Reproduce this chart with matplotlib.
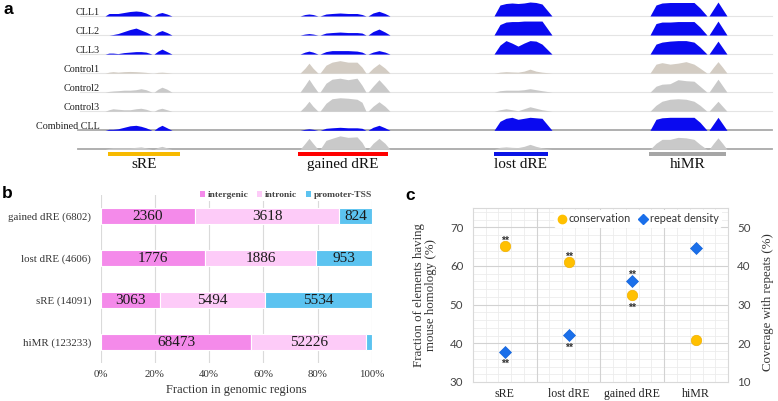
import matplotlib
matplotlib.use("Agg")
import matplotlib.pyplot as plt
from matplotlib.patches import Patch
from matplotlib.lines import Line2D
import numpy as np

W, H = 778, 401
SERIF = ["Liberation Serif", "DejaVu Serif"]
SANS = ["Lato", "DejaVu Sans"]
BOLD_SANS = ["Liberation Sans", "DejaVu Sans"]

# ---------------- panel a data ----------------
track_names = ["CLL1", "CLL2", "CLL3", "Control1", "Control2", "Control3", "Combined CLL", ""]
track_colors = ["#0A0AF0", "#0A0AF0", "#0A0AF0", "#D3CCC3", "#C9C9C9", "#C9C9C9", "#0A0AF0", "#C9C9C9"]

region_names = ["sRE", "gained dRE", "lost dRE", "hiMR"]
region_start = [108, 298, 494, 649]
region_end = [180, 388, 548, 726]
region_colors = ["#F7BA00", "#FF0000", "#0A14E6", "#A6A6A6"]

sre_pos = [105, 109, 113, 118, 124, 130, 136, 141, 146, 152, 154, 158, 162, 167, 172]
sre_heights = [
    [0, 2.5, 2.5, 2.5, 3.5, 4.5, 5, 4.5, 3, 0, 0, 2.5, 3.5, 2, 0],
    [0, 0, 0.5, 1.5, 3.5, 5.5, 7, 5, 3, 0, 0, 3, 4.5, 2.5, 0],
    [0, 1, 1, 0.5, 1.5, 2, 2.5, 2.5, 2, 0, 0, 3, 5, 2.5, 0],
    [0, 1, 1.5, 1, 1.5, 1.7, 1.5, 1.2, 0.8, 0, 0, 0.8, 1, 0.6, 0],
    [0, 0.8, 1.2, 1.5, 2, 2, 2.5, 3.5, 2.5, 0, 0, 3, 5, 3, 0],
    [0, 1.5, 2.5, 2, 1.5, 1.5, 2.5, 3, 2, 0, 0, 2, 3, 1.5, 0],
    [0, 1, 1, 1.5, 3, 4.5, 5, 4, 2.5, 0, 0, 3, 5, 2.5, 0],
    [0, 1, 1.5, 1.5, 1.5, 1.5, 2, 2.5, 1.5, 0, 0, 2, 3, 1.5, 0],
]

gained_pos = [300, 305, 309, 313, 318, 320, 326, 332, 340, 348, 357, 362, 366, 368, 373, 379, 385, 390]
gained_heights = [
    [0, 1.5, 2, 1.5, 0, 0, 2, 2.5, 3, 2.5, 2.5, 1.5, 0, 0, 3, 4.7, 2.5, 0],
    [0, 1, 1.5, 1, 0, 0, 2, 2.5, 3, 2.5, 2.5, 2, 0, 0, 3.5, 6, 3, 0],
    [0, 2, 3, 2, 0, 0, 2.5, 3.5, 3.5, 3.5, 3, 2, 0, 0, 2, 3.5, 2, 0],
    [0, 5, 10, 5, 0, 0, 8, 11, 12.5, 11, 11, 6, 0, 0, 5, 9.5, 5, 0],
    [0, 7, 13, 7, 0, 0, 9, 13, 14, 12.5, 14, 7, 0, 0, 6, 12.5, 6, 0],
    [0, 5, 10, 5, 0, 0, 8, 12.5, 13.5, 13, 12, 9, 0, 0, 5, 9.5, 5, 0],
    [0, 1, 1.5, 1, 0, 0, 2, 2.5, 3, 2.5, 2.5, 2, 0, 0, 3, 5, 2.5, 0],
    [0, 6, 11, 6, 0, 0, 9, 11, 13.5, 12, 12.5, 7, 0, 0, 6, 11, 6, 0],
]

lost_pos = [494, 500, 506, 512, 518, 524, 530, 536, 542, 552]
lost_heights = [
    [0, 11, 12.5, 13, 12.5, 13, 14, 13.5, 12, 0],
    [0, 10.5, 13, 13.5, 13.5, 14, 14, 14, 14, 0],
    [0, 9, 13.5, 11, 8, 11, 13.5, 13, 10, 0],
    [0, 1, 1.5, 1.2, 1, 2, 4, 2, 1, 0],
    [0, 1.5, 2, 2, 2, 2.5, 3.5, 2.5, 1.5, 0],
    [0, 1.5, 2.5, 1.5, 0.5, 2.5, 4.5, 3, 1.5, 0],
    [0, 9, 12, 13, 11, 12, 13, 12.5, 12, 0],
    [0, 2, 2.5, 2, 1.8, 3, 5, 3, 1.5, 0],
]

himr_pos = [650, 656, 662, 670, 678, 686, 694, 700, 707, 709, 713.5, 718, 722.5, 727]
himr_heights = [
    [0, 11, 13, 13.5, 13.5, 13.5, 13.5, 8, 0, 0, 7, 14, 7, 0],
    [0, 11.5, 13, 13, 13.5, 13.5, 13.5, 8, 0, 0, 7, 14, 7, 0],
    [0, 10, 12, 13, 13.5, 13.5, 12, 7, 0, 0, 6.5, 13, 6.5, 0],
    [0, 9, 10.5, 9, 10, 11.5, 9, 5, 0, 0, 6, 11.5, 6, 0],
    [0, 6, 8, 8.5, 12.5, 11.5, 11, 6, 0, 0, 6.5, 13, 6.5, 0],
    [0, 6, 10, 12, 12.5, 12, 10, 6, 0, 0, 5, 10, 5, 0],
    [0, 11, 12.5, 13, 13, 13, 13, 8, 0, 0, 6.5, 13, 6.5, 0],
    [0, 6, 10, 10, 12, 11.5, 10, 5, 0, 0, 6, 11.5, 6, 0],
]

# ---------------- panel b data ----------------
b_categories = ["gained dRE (6802)", "lost dRE (4606)", "sRE (14091)", "hiMR (123233)"]
intergenic = [2360, 1776, 3063, 68473]
intronic = [3618, 1886, 5494, 52226]
promoter_tss = [824, 953, 5534, 2534]
b_series_names = ["intergenic", "intronic", "promoter-TSS"]
b_colors = ["#F48AEA", "#FDCBF8", "#5CC3F0"]
b_xticks = [0, 20, 40, 60, 80, 100]

# ---------------- panel c data ----------------
c_categories = ["sRE", "lost dRE", "gained dRE", "hiMR"]
conservation = [65.1, 61.0, 52.4, 40.9]
repeat_density = [17.8, 22.1, 36.2, 44.7]
conservation_sig = ["above", "above", "below", ""]
repeat_sig = ["below", "below", "above", ""]
left_ticks = [30, 40, 50, 60, 70]
right_ticks = [10, 20, 30, 40, 50]

fig = plt.figure(figsize=(W / 100, H / 100), dpi=100)

# ================= panel a =================
ax_a = fig.add_axes([0, 0, 1, 1])
ax_a.set_xlim(0, W)
ax_a.set_ylim(H, 0)
ax_a.axis("off")

baselines = [16 + 19.05 * i for i in range(len(track_names))]
for i, base in enumerate(baselines):
    if i >= 6:
        ax_a.plot([78, 772], [base, base], color="#A9A9A9", lw=1.3, zorder=1)
    else:
        ax_a.plot([80, 772], [base, base], color="#E4E4E4", lw=0.8, zorder=1)
    if track_names[i]:
        ax_a.text(100, base - 3.5, track_names[i], ha="right", va="center",
                  family=SERIF, fontsize=7.3, color="#222222")

for pos, heights in [(sre_pos, sre_heights), (gained_pos, gained_heights),
                     (lost_pos, lost_heights), (himr_pos, himr_heights)]:
    for i, h in enumerate(heights):
        base = baselines[i]
        ax_a.fill_between(pos, base, base - np.array(h, dtype=float),
                          color=track_colors[i], lw=0, zorder=2)

for name, s, e, c in zip(region_names, region_start, region_end, region_colors):
    ax_a.barh(154, e - s, left=s, height=4.5, color=c, lw=0, zorder=2)
    ax_a.text((s + e) / 2, 164.5, name, ha="center", va="center",
              family=SERIF, fontsize=11, color="#111111")

fig.text(3 / W, 1 - 10 / H, "a", family=BOLD_SANS, fontweight="bold",
         fontsize=12.5, va="center", ha="left")

# ================= panel b =================
ax_b = fig.add_axes([100.7 / W, 1 - 363 / H, 271.3 / W, 168 / H])
b_data = np.array([intergenic, intronic, promoter_tss], dtype=float)
b_frac = b_data / b_data.sum(axis=0) * 100
ypos = np.arange(len(b_categories))
left = np.zeros(len(b_categories))
for k in range(3):
    ax_b.barh(ypos, b_frac[k], left=left, height=0.38, color=b_colors[k],
              edgecolor="white", lw=0.8, zorder=2, label=b_series_names[k])
    for j in range(len(b_categories)):
        if b_frac[k][j] > 5:
            ax_b.text(left[j] + b_frac[k][j] / 2, ypos[j], f"{int(b_data[k][j])}",
                      ha="center", va="center", family=SERIF, fontsize=11,
                      color="#1A1A1A", zorder=3)
    left = left + b_frac[k]

ax_b.set_xlim(0, 100)
ax_b.set_ylim(3.5, -0.5)
ax_b.set_yticks(ypos)
ax_b.set_yticklabels(b_categories, family=SERIF, fontsize=7.8, color="#333333")
ax_b.set_xticks(b_xticks)
ax_b.set_xticklabels([f"{t}%" for t in b_xticks], family=SERIF, fontsize=7.8, color="#333333")
ax_b.tick_params(length=0, pad=7)
ax_b.tick_params(axis="x", pad=5)
for sp in ax_b.spines.values():
    sp.set_visible(False)
ax_b.grid(axis="x", color="#DADADA", lw=0.8, zorder=0)
ax_b.set_axisbelow(True)
ax_b.set_xlabel("Fraction in genomic regions", family=SERIF, fontsize=9, color="#333333", labelpad=4)
handles_b = [Patch(facecolor=c, edgecolor="none", label=n) for c, n in zip(b_colors, b_series_names)]
leg_b = ax_b.legend(handles=handles_b, loc="upper right", bbox_to_anchor=(1.005, 1.035), ncol=3,
                    prop={"family": SERIF, "size": 6.8, "weight": "bold"},
                    handlelength=0.55, handleheight=0.7, handletextpad=0.3,
                    columnspacing=0.9, frameon=True, borderpad=0.15, borderaxespad=0.0)
leg_b.get_frame().set_facecolor("white")
leg_b.get_frame().set_edgecolor("none")
leg_b.get_frame().set_alpha(1)
for t in leg_b.get_texts():
    t.set_color("#444444")

fig.text(2 / W, 1 - 193 / H, "b", family=BOLD_SANS, fontweight="bold",
         fontsize=12.5, va="center", ha="left")

# ================= panel c =================
ax_c = fig.add_axes([473 / W, 1 - 382 / H, 255 / W, 174 / H])
xc = np.arange(len(c_categories))
ax_c.set_xlim(-0.5, len(c_categories) - 0.5)
ax_c.set_ylim(30, 75)
for xv in np.arange(-0.3, 3.5, 0.2):
    ax_c.axvline(xv, color="#ECECEC", lw=0.6, zorder=0)
for yv in np.arange(32, 75, 2):
    ax_c.axhline(yv, color="#ECECEC", lw=0.6, zorder=0)
for xv in [0.5, 1.5, 2.5]:
    ax_c.axvline(xv, color="#D2D2D2", lw=0.8, zorder=0)
for yv in left_ticks[1:]:
    ax_c.axhline(yv, color="#D2D2D2", lw=0.8, zorder=0)
for sp in ax_c.spines.values():
    sp.set_color("#D9D9D9")
    sp.set_linewidth(0.8)
ax_c.set_xticks(xc)
ax_c.set_xticklabels(c_categories, family=SERIF, fontsize=8.6, color="#222222")
ax_c.set_yticks(left_ticks)
ax_c.set_yticklabels([str(t) for t in left_ticks], family=SANS, fontsize=8.3, color="#444444")
ax_c.tick_params(length=0)
ax_c.tick_params(axis="y", pad=7)
ax_c.tick_params(axis="x", pad=4)

ax_c2 = ax_c.twinx()
ax_c2.set_ylim(10, 55)
ax_c2.set_yticks(right_ticks)
ax_c2.set_yticklabels([str(t) for t in right_ticks], family=SANS, fontsize=8.3, color="#444444")
ax_c2.tick_params(length=0, pad=6.5)
for sp in ax_c2.spines.values():
    sp.set_visible(False)

ax_c.plot(xc, conservation, "o", color="#FFC000", ms=7.5, mec="#F0B000", mew=0.5, zorder=3)
ax_c2.plot(xc, repeat_density, "D", color="#1A6FEA", ms=6.3, mec="#1565DA", mew=0.5, zorder=3)


def stars(ax, xs, ys, where):
    for x, y, w in zip(xs, ys, where):
        if not w:
            continue
        off = 4 if w == "above" else -9
        ax.annotate("**", (x, y), xytext=(0, off), textcoords="offset points",
                    ha="center", va="center", fontsize=7.5, color="#333333",
                    family=BOLD_SANS, fontweight="bold")


stars(ax_c, xc, conservation, conservation_sig)
stars(ax_c2, xc, repeat_density, repeat_sig)

handles_c = [Line2D([], [], marker="o", ls="none", color="#FFC000", ms=6, label="conservation"),
             Line2D([], [], marker="D", ls="none", color="#1A6FEA", ms=5, label="repeat density")]
leg_c = ax_c2.legend(handles=handles_c, loc="upper right", bbox_to_anchor=(0.985, 1.0), ncol=2,
                     prop={"family": SANS, "size": 7.8}, handlelength=0.8, handletextpad=0.2,
                     columnspacing=0.8, frameon=True, borderpad=0.3, borderaxespad=0.2)
leg_c.get_frame().set_facecolor("white")
leg_c.get_frame().set_edgecolor("none")
leg_c.get_frame().set_alpha(1)
for t in leg_c.get_texts():
    t.set_color("#333333")

fig.text(425 / W, 1 - 295 / H, "Fraction of elements having\nmouse homology (%)",
         rotation=90, ha="center", va="center", family=SERIF, fontsize=9.3,
         color="#333333", linespacing=1.05)
fig.text(768 / W, 1 - 302 / H, "Coverage with repeats (%)", rotation=90,
         ha="center", va="center", family=SERIF, fontsize=9.3, color="#333333")

fig.text(405 / W, 1 - 196 / H, "c", family=BOLD_SANS, fontweight="bold",
         fontsize=12.5, va="center", ha="left")

fig.savefig("out.png", dpi=100)
